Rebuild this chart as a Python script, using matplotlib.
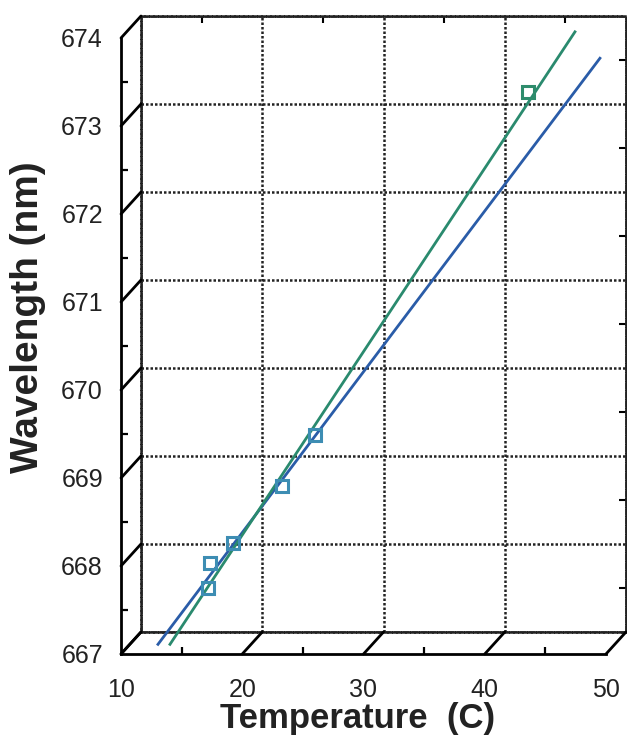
import numpy as np
import matplotlib
matplotlib.use('Agg')
import matplotlib.pyplot as plt
from matplotlib.patches import ConnectionPatch
from matplotlib.ticker import MultipleLocator

#************data***************************************
temp_pts=[17.2, 17.3, 19.2, 23.3, 26.0, 43.6]
wl_pts  =[667.75, 668.03, 668.26, 668.91, 669.49, 673.39]
pt_colors=['#3d8db3','#3d8db3','#3d8db3','#3d8db3','#3d8db3','#2e8c6c']

fit_temp_blue =[13.05, 49.5]
fit_wl_blue   =[667.11, 673.77]
fit_temp_green=[14.04, 47.44]
fit_wl_green  =[667.11, 674.07]

x_ticks=[10,20,30,40,50]
y_ticks=[667,668,669,670,671,672,673,674]
xlabel='Temperature  (C)'
ylabel='Wavelength (nm)'
#*******************************************************

plt.rcParams['font.family']=['Liberation Sans','DejaVu Sans']

W,H=627.,741.
fig=plt.figure(figsize=(W/100,H/100),dpi=100)

# front frame and back (depth) plane, in pixels
fl,fb,fw,fh=121.,654.,485.,616.
dx,dy=20.,22.
front_pos=[fl/W,1-fb/H,fw/W,fh/H]
back_pos=[(fl+dx)/W,1-(fb-dy)/H,fw/W,fh/H]

dot=(0,(1,0.8))

ax_b=fig.add_axes(back_pos)
ax_b.set_xlim(10,50)
ax_b.set_ylim(667,674)
ax_b.set_xticks(x_ticks)
ax_b.set_yticks(y_ticks)
ax_b.xaxis.set_minor_locator(MultipleLocator(5))
ax_b.yaxis.set_minor_locator(MultipleLocator(0.5))
ax_b.grid(True,color='#222222',linestyle=dot,linewidth=1.8)
for s in ax_b.spines.values():
	s.set_linestyle(dot)
	s.set_linewidth(1.8)
	s.set_color('#222222')
ax_b.tick_params(which='major',length=0,labelbottom=False,labelleft=False)
ax_b.tick_params(which='minor',direction='in',length=5,width=1.5,
				 bottom=False,left=False,top=True,right=True)

ax=fig.add_axes(front_pos)
ax.patch.set_alpha(0)
ax.set_xlim(10,50)
ax.set_ylim(667,674)
ax.set_xticks(x_ticks)
ax.set_yticks(y_ticks)
ax.xaxis.set_minor_locator(MultipleLocator(5))
ax.yaxis.set_minor_locator(MultipleLocator(0.5))
ax.spines['top'].set_visible(False)
ax.spines['right'].set_visible(False)
ax.spines['left'].set_linewidth(2)
ax.spines['bottom'].set_linewidth(2)
ax.tick_params(which='major',length=0,labelsize=18,labelcolor='#222222')
ax.tick_params(axis='y',which='major',pad=13)
ax.tick_params(axis='x',which='major',pad=17)
ax.tick_params(which='minor',direction='in',length=5,width=1.6)

# depth connectors from front ticks to the back grid
for v in y_ticks:
	con=ConnectionPatch(xyA=(10,v),coordsA=ax.transData,xyB=(10,v),coordsB=ax_b.transData,
						color='black',linewidth=2)
	fig.add_artist(con)
for v in x_ticks:
	con=ConnectionPatch(xyA=(v,667),coordsA=ax.transData,xyB=(v,667),coordsB=ax_b.transData,
						color='black',linewidth=2)
	fig.add_artist(con)

ax.plot(fit_temp_blue,fit_wl_blue,color='#2a5ca8',linewidth=2,clip_on=False,zorder=3)
ax.plot(fit_temp_green,fit_wl_green,color='#2a8a6e',linewidth=2,clip_on=False,zorder=3)
for t,w,c in zip(temp_pts,wl_pts,pt_colors):
	ax.plot(t,w,marker='s',markersize=8,markerfacecolor='none',markeredgecolor=c,
			markeredgewidth=2.2,linestyle='none',clip_on=False,zorder=4)

ax.set_xlabel(xlabel,fontsize=25,fontweight='bold',color='#222222')
ax.set_ylabel(ylabel,fontsize=28,fontweight='bold',color='#222222')
ax.xaxis.set_label_coords(0.487,-0.078)
ax.yaxis.set_label_coords(-0.155,0.547)

plt.savefig('out.png',dpi=100)
